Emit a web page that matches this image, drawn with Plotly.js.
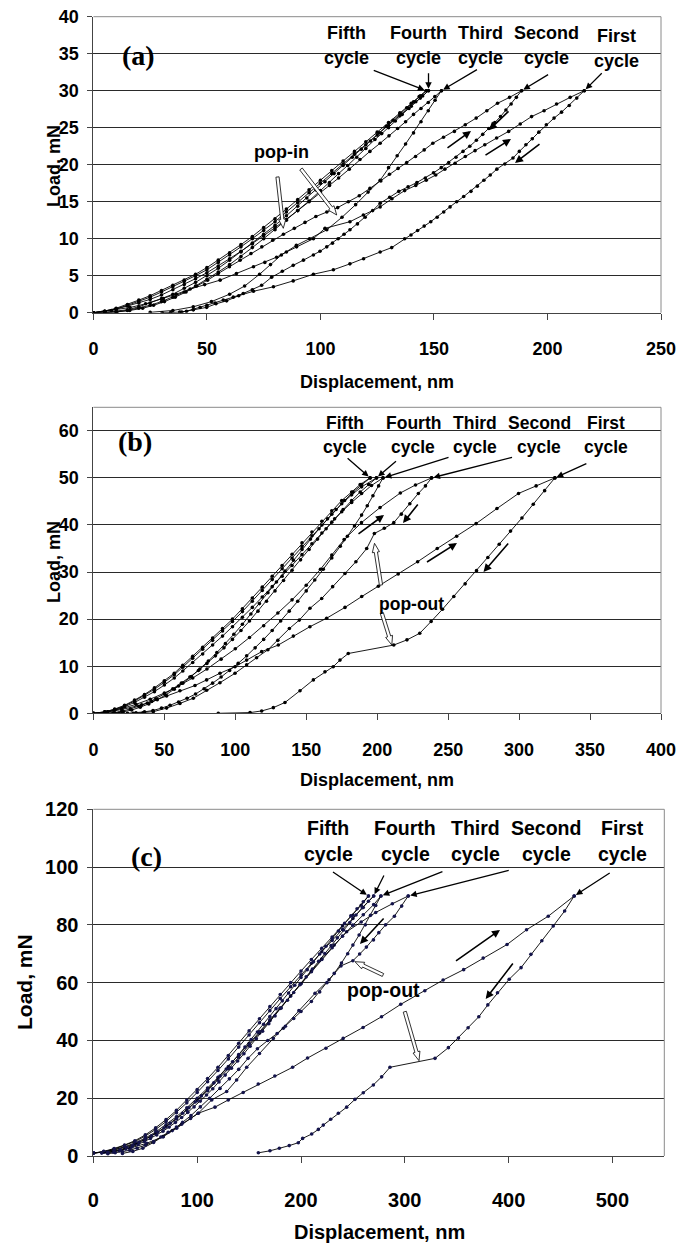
<!DOCTYPE html>
<html><head><meta charset="utf-8">
<script src="https://cdn.plot.ly/plotly-3.0.1.min.js"></script>
<style>html,body{margin:0;padding:0;background:#fff}#chart{width:677px;height:1243px}</style>
</head><body><div id="chart"></div>
<script>
// ---------------- Panel (a): max load 30 mN ----------------
const aC1Lx=[0,8,16.1,23,30.8,36.5,42.6,49,55.8,63,70.5,75.5,80.7,85,89.5,96.9,102,113,118.9,126.3,131.5,137.1,142,146.6,150.8,154.8,159.3,163.8,168.1,172.4,177.6,182.9,188,193,198.5,204,210,216.2];
const aC1Ly=[0,0.3,0.7,1.2,1.9,2.5,3.2,3.8,4.4,5.3,6.2,6.8,7.5,8.2,8.9,10.0,11.4,12.3,13.2,14.3,15.4,16.5,17.2,17.9,18.6,19.4,20.2,21.1,21.9,22.7,23.6,24.5,25.5,26.5,27.3,28.2,29.1,30];
const aC1Ux=[216.2,212.9,209.6,206.2,202.9,199.5,196.2,193.3,190.5,187.6,184.8,181.2,177.7,174.8,172,169.1,166.3,163.1,160,157.1,154.3,151.4,148.6,145.7,142.8,139.9,137.1,131.4,126.3,119,113,105.7,96.9,88,79.3,70.5,64,58.7,54,49.9,44,38.9,34,30.3];
const aC1Uy=[30,29,28,27.1,26.3,25.4,24.4,23.5,22.7,21.8,20.9,20.1,19.4,18.6,17.9,17.1,16.4,15.7,15,14.3,13.6,12.9,12.3,11.7,11.1,10.5,10,8.8,8.2,7.3,6.6,5.8,5.2,4.3,3.5,2.9,2.3,1.6,1.2,0.72,0.4,0.1,0.02,0];
const aC2Lx=[0,10.3,16,21.7,26.5,31.3,36,40.8,45.5,50.3,55,59.9,64.6,69.4,74.2,79,83.7,88.5,93.2,98,102.8,107.6,112.3,117.1,121.8,126.6,130.4,134.2,138,141.9,145.7,149.5,154.2,159,163.8,168.6,173.3,178,183.3,188.6];
const aC2Ly=[0,0.1,0.3,0.6,1.0,1.5,2.1,2.8,3.6,4.4,5.3,6.2,7.1,8,8.9,9.8,10.6,11.4,12.2,13,13.6,14.2,15.0,15.8,16.8,17.8,18.7,19.5,20.3,21.1,22.0,22.9,23.7,24.5,25.4,26.3,27.3,28.3,29.1,30];
const aC2Ux=[188.6,186.3,184,181.7,179.3,176.8,174.2,171.5,168.7,165.8,162.8,159.7,156.5,153.2,149.8,146.2,142.5,138.6,134.5,130.5,126.3,123,119.7,116.3,113,110.4,107.8,105.3,102.8,99.8,96.9,92.5,88,83.2,78.5,74.1,70,66,61.6,57.2,53.6,50,47,44,41,38];
const aC2Uy=[30,29.1,28.2,27.4,26.5,25.7,24.9,24.1,23.3,22.5,21.8,21.0,20.3,19.6,18.9,18.2,17.6,17.0,16.4,15.6,14.8,13.8,12.9,12.0,11.2,10.6,10.0,9.4,8.9,8.3,7.8,7.1,6.4,5.6,4.8,3.7,3.1,2.6,2.1,1.7,1.3,1.0,0.7,0.4,0.2,0.1];
const aC3Lx=[0,5,10,15,20,25,30,35,40,45,50,55,60,65,70,75,80,85,90,95,100,104,108,112.7,117.4,121.8,126.3,130.2,134,137.5,141,144.3,147.5,150.4,153.3];
const aC3Ly=[0,0.2,0.5,0.9,1.3,1.8,2.4,3.1,3.8,4.6,5.4,6.3,7.3,8.3,9.3,10.4,11.5,12.6,13.8,15.0,16.2,17.2,18.2,19.4,20.7,21.8,22.9,23.9,24.9,25.8,26.8,27.6,28.4,29.2,30];
const aC3Ux=[153.3,150.5,147.5,144.3,141,137.5,133.8,130,126.3,121,115.5,109.5,102.8,95.2,89.4,82.8,78,73.2,66.6,60,52,44,35,25];
const aC3Uy=[30,28.7,27.3,25.8,24.3,22.8,21.2,19.6,17.9,16.3,14.6,12.9,11.2,10,9.1,7.8,6.5,5.2,3.6,2.5,1.5,0.8,0.3,0.05];
const aC4Lx=[0,5,10,15,20,25,30,35,40,45,50,55,60,65,70,75,80,85,90,95,100,105,110,115,120,125,130,135,140,144,147.6];
const aC4Ly=[0,0.2,0.5,1.0,1.5,2.1,2.8,3.5,4.2,5.0,5.8,6.8,7.8,8.9,10.0,11.1,12.3,13.6,14.9,16.2,17.5,18.8,20.1,21.4,22.7,24.0,25.3,26.6,27.9,29.0,30];
const aC4Ux=[147.6,145,142,139,136,133,130,127,124,120,116,112,108,104,100,95,90,85,80,75,70,65,60,55,50,45,40,35,30,25,20,15,10,5];
const aC4Uy=[30,29.3,28.5,27.6,26.8,25.9,25,24.2,23.4,22.2,21.0,19.9,18.8,17.6,16.5,15.1,13.8,12.5,11.2,10.0,8.8,7.6,6.5,5.5,4.5,3.6,2.8,2.1,1.5,1.0,0.6,0.3,0.1,0];
const aC5Lx=[0,5,10,15,20,25,30,35,40,45,50,55,60,65,70,75,80,85,90,95,100,105,110,115,120,125,130,135,140,143.5,146.6];
const aC5Ly=[0,0.2,0.6,1.1,1.7,2.3,3.0,3.7,4.4,5.2,6.1,7.1,8.1,9.2,10.3,11.5,12.7,14.0,15.3,16.6,17.9,19.2,20.5,21.8,23.1,24.4,25.7,27.0,28.3,29.2,30];
const aC5Ux=[146.6,144,141,138,135,132,129,126,122,118,114,110,106,102,98,94,90,85,80,75,70,65,60,55,50,45,40,35,30,25,20,15,10,5,0];
const aC5Uy=[30,29.3,28.5,27.7,26.9,26.0,25.2,24.3,23.2,22.1,21.0,19.9,18.8,17.7,16.6,15.5,14.4,13.1,11.8,10.6,9.4,8.2,7.1,6.0,5.0,4.1,3.3,2.5,1.9,1.3,0.8,0.4,0.2,0.05,0];

// ---------------- Panel (b): max load 50 mN ----------------
const bC1Lx=[0,10,20,34,41.1,51.6,61,71.6,79.8,89.2,99.8,108,118.6,130.3,140.9,152.6,164.4,177.3,189.1,200.8,214.8,228.5,242.3,256,269.7,284.4,299.6,312,325.2];
const bC1Ly=[0,0.3,0.8,1.8,2.5,3.7,4.8,5.9,7.1,8.5,9.9,11.3,13.1,14.5,16.4,18.4,20.2,22.5,24.8,27.0,29.6,32.2,35.0,37.6,40.3,43.5,46.7,48.3,50];
const bC1Ux=[325.2,318,310,302,294,286,278,270,262,254,246,238,230,221,211.7,179.6,173.8,169,163.2,155,145.6,135,126.8,118.6,110.4,88];
const bC1Uy=[50,47.3,44.4,41.5,38.7,35.9,33.1,30.3,27.5,24.8,22.1,19.5,17.0,15.6,14.5,12.7,11.3,9.9,8.8,7.1,4.8,2.3,1.2,0.5,0.15,0];
const bC2Lx=[0,10,20,30,40,50,60,70,80,90,100,110,120,130,140,150,160,168,176.7,188.9,202,216.3,227,238.3];
const bC2Ly=[0,0.3,1.0,1.9,3.0,4.3,5.8,7.5,9.4,11.5,13.7,16.1,18.6,21.3,24.1,27.2,30.6,33.6,36.9,40.5,43.7,46.8,48.5,50];
const bC2Ux=[238.3,234,229,223,217,211.7,205,198,192.6,185,177.3,168.6,160.9,152.6,145.1,138.1,130,123,115,108,99.8,89.2,79.8,70.4,61,51.6,42.2,35,28.1];
const bC2Uy=[50,48.3,46.7,44.5,42.3,40.5,39.3,38.2,35,32.2,29.7,26.9,24.4,22.3,19.8,18,15.5,13.5,11.8,10.3,8.5,6.5,4.9,3.2,2.1,1.1,0.35,0.1,0];
const bC3Lx=[0,8,15,22,29,36,43,50,57,63,70,77,84,91,98,105,112,119,126,133,140,147,154,161,168,175,182,189,196,204.1];
const bC3Ly=[0,0.2,0.7,1.4,2.3,3.4,4.6,6.0,7.5,9.0,10.8,12.6,14.5,16.4,18.4,20.4,22.5,24.7,26.9,29.1,31.4,33.7,36.0,38.3,40.6,42.8,44.8,46.7,48.4,50];
const bC3Ux=[204.1,201,197,193,189,184,179,174,168,162,156,150,144,138,132,126,120,114,108,102,96,90,84,78,72,66,60,54,48,42,36,30,24,18];
const bC3Uy=[50,48.3,46.2,44.1,42.1,39.8,37.6,35.5,33.0,30.6,28.3,26.0,23.8,21.7,19.6,17.6,15.7,13.9,12.2,10.6,9.1,7.7,6.4,5.2,4.1,3.2,2.4,1.7,1.1,0.6,0.3,0.1,0,0];
const bC4Lx=[0,8,15,22,29,36,43,50,57,63,70,77,84,91,98,105,112,119,126,133,140,147,154,161,168,175,182,189,199.5];
const bC4Ly=[0,0.3,0.8,1.6,2.6,3.8,5.1,6.6,8.2,9.8,11.7,13.6,15.5,17.5,19.5,21.6,23.8,26.1,28.4,30.7,33.0,35.4,37.7,40.0,42.3,44.5,46.4,48.1,50];
const bC4Ux=[199.5,194,188,182,176,170,164,158,152,146,140,134,128,122,116,110,104,98,92,86,80,74,68,62,56,50,44,38,32,26,20,14,8];
const bC4Uy=[50,48.6,47.0,45.2,43.3,41.3,39.2,37.0,34.8,32.6,30.4,28.2,26.0,23.8,21.7,19.6,17.6,15.7,13.9,12.2,10.6,9.1,7.7,6.4,5.2,4.1,3.1,2.2,1.5,0.9,0.4,0.1,0];
const bC5Lx=[0,8,15,22,29,36,43,50,57,63,70,77,84,91,98,105,112,119,126,133,140,147,154,161,168,175,182,188,195];
const bC5Ly=[0,0.3,0.9,1.7,2.8,4.0,5.4,6.9,8.5,10.2,12.1,14.0,16.0,18.0,20.0,22.2,24.5,26.8,29.1,31.4,33.8,36.2,38.5,40.8,43.0,45.2,47.0,48.6,50];
const bC5Ux=[195,189,183,177,171,165,159,153,147,141,135,129,123,117,111,105,99,93,87,81,75,69,63,57,51,45,39,33,27,21,15,9];
const bC5Uy=[50,48.6,47.0,45.2,43.3,41.3,39.2,37.0,34.8,32.5,30.2,27.9,25.6,23.3,21.1,18.9,16.8,14.8,12.9,11.1,9.4,7.8,6.4,5.1,3.9,2.9,2.0,1.3,0.7,0.3,0.1,0];

// ---------------- Panel (c): max load 90 mN ----------------
const cC1Lx=[0,19.2,35.2,51.3,67.3,80.2,101,117.1,129.9,144.3,158.8,174.8,191.9,206.3,224,240.6,259.8,277.6,296.1,319.3,336.9,356.7,375.5,398.5,417.3,438.2,463.2];
const cC1Ly=[1.1,1.5,2.7,4.4,6.7,9.6,14.8,16.9,19.4,22,24.9,27.7,30.7,33.9,37.3,40.7,44.5,48.2,52.5,57.2,60.9,64.5,68.5,73.2,78.3,83,90];
const cC1Ux=[463.2,454,443,432,421.5,412,400.6,389.3,380,371.3,361,351.7,342,329.1,285.7,277.7,269.7,260,252,244,236,228.6,221.5,216.7,210.3,201.6,197.4,188.7,179.1,170.1,158.9];
const cC1Uy=[90,84.8,79.6,74.5,69.8,65.2,61.2,56.5,52.3,48.2,44.4,40.8,37.5,33.8,30.7,27.4,24.6,21.9,19.6,16.9,14.8,12.7,10.7,9.2,7.6,6.1,4.6,3.6,2.7,1.8,1.1];
const cC2Lx=[0,10,20,30,40,50,60,70,80,90,100,110,120,130,140,150,160,170,180,190,200,210,220,232,244,258,272,288,303.3];
const cC2Ly=[1,1.4,2.1,3.0,4.2,5.8,7.8,10.1,12.8,15.8,19.1,22.6,26.3,30.2,34.2,38.3,42.5,46.8,51.1,55.4,59.7,64.0,68.2,73.0,77.6,81.0,84.3,87.3,90];
const cC2Ux=[303.3,297,290,281.5,275,269.8,263,256.5,250,238.5,227,213.5,198,183,173.3,160,147.7,138,128.4,114,101,93.6,85,76,67,58,47.6,38,28];
const cC2Uy=[90,86.5,83,80,77.3,74.8,72.3,69.9,67.6,65.8,61,56.3,50.3,44.2,40.7,35.5,30.7,26.3,22.3,19.4,14.8,13,11,8.8,6.7,4.7,2.7,1.6,0.9];
const cC3Lx=[0,10,20,30,40,50,60,70,80,90,100,110,120,130,140,150,160,170,180,190,200,210,220,230,240,250,260,270,277];
const cC3Ly=[1,1.4,2.2,3.2,4.5,6.2,8.3,10.8,13.6,16.7,20.0,23.5,27.2,31.0,34.9,38.9,43.0,47.1,51.2,55.4,59.6,63.8,68.0,72.1,76.1,79.9,83.5,87.0,90];
const cC3Ux=[277,272,267,262,256,250,245,239,232,225,218,210,200,193,185,177,168,158,149,140,131,122,112,103,94,86,80,72,65,58,50,42,35,28,21,14];
const cC3Uy=[90,86.7,83.3,80,76.5,73,70,66.8,63.2,60,56.8,53.5,50,47.6,44.9,42.4,40,37.1,33.8,30,26.7,23.4,20,17,14,11.7,10,8.2,6.6,5,3.7,2.7,2,1.5,1.1,0.8];
const cC4Lx=[0,10,20,30,40,50,60,70,80,90,100,110,120,130,140,150,160,170,180,190,200,210,220,230,240,250,260,270];
const cC4Ly=[1,1.5,2.4,3.6,5.0,6.9,9.2,11.9,15.0,18.4,22.0,25.7,29.6,33.6,37.7,41.9,46.1,50.3,54.5,58.6,62.7,66.7,70.7,74.6,78.4,82.2,86.0,90];
const cC4Ux=[270,265,259,253,247,241,235,229,223,217,211,205,199,193,187,181,175,169,163,157,151,145,139,133,127,121,115,109,103,97,91,85,79,73,67,61,55,49,43,37,31,25,19,13];
const cC4Uy=[90,88.2,85.9,83.4,80.8,78.2,75.5,72.8,70.1,67.4,64.7,62.0,59.3,56.6,53.9,51.2,48.5,45.8,43.2,40.6,38.0,35.4,32.9,30.4,28.0,25.6,23.3,21.1,19.0,17.0,15.1,13.3,11.6,10.0,8.6,7.3,6.1,5.0,4.0,3.1,2.4,1.8,1.4,1.1];
const cC5Lx=[0,10,20,30,40,50,60,70,80,90,100,110,120,130,140,150,160,170,180,190,200,210,220,230,240,250,258,265];
const cC5Ly=[1,1.6,2.6,3.8,5.3,7.3,9.8,12.6,15.8,19.4,23.0,26.8,30.7,34.8,39.0,43.3,47.5,51.7,55.9,60.0,64.0,68.0,71.9,75.8,79.6,83.3,86.8,90];
const cC5Ux=[265,260,254,248,242,236,230,224,218,212,206,200,194,188,182,176,170,164,158,152,146,140,134,128,122,116,110,104,98,92,86,80,74,68,62,56,50,44,38,32,26,20,14,8];
const cC5Uy=[90,88.0,85.6,83.1,80.5,77.9,75.3,72.6,69.9,67.2,64.5,61.8,59.1,56.4,53.7,51.0,48.3,45.6,42.9,40.3,37.7,35.1,32.6,30.1,27.7,25.3,23.0,20.8,18.7,16.7,14.8,13.0,11.3,9.7,8.3,7.0,5.8,4.7,3.7,2.9,2.2,1.7,1.3,1.0];

// labels
const cycleWords=['Fifth','Fourth','Third','Second','First'];
const cycleWord2='cycle';
const panelTags=['(a)','(b)','(c)'];
const xTitle='Displacement, nm';
const yTitle='Load, mN';
const popIn='pop-in', popOut='pop-out';

// ---------------- drawing ----------------
const W=677,H=1243;
const PX=x=>x/W, PY=y=>1-y/H;
const FONT='Liberation Sans, Arial, Helvetica, sans-serif';

const panels=[
 {xa:'x',ya:'y',mk:'#000',curves:[[aC1Lx,aC1Ly],[aC1Ux,aC1Uy],[aC2Lx,aC2Ly],[aC2Ux,aC2Uy],[aC3Lx,aC3Ly],[aC3Ux,aC3Uy],[aC4Lx,aC4Ly],[aC4Ux,aC4Uy],[aC5Lx,aC5Ly],[aC5Ux,aC5Uy]],
  peaks:[[aC5Ux,aC5Uy],[aC4Ux,aC4Uy],[aC3Ux,aC3Uy],[aC2Ux,aC2Uy],[aC1Ux,aC1Uy]]},
 {xa:'x2',ya:'y2',mk:'#000',curves:[[bC1Lx,bC1Ly],[bC1Ux,bC1Uy],[bC2Lx,bC2Ly],[bC2Ux,bC2Uy],[bC3Lx,bC3Ly],[bC3Ux,bC3Uy],[bC4Lx,bC4Ly],[bC4Ux,bC4Uy],[bC5Lx,bC5Ly],[bC5Ux,bC5Uy]],
  peaks:[[bC5Ux,bC5Uy],[bC4Ux,bC4Uy],[bC3Ux,bC3Uy],[bC2Ux,bC2Uy],[bC1Ux,bC1Uy]]},
 {xa:'x3',ya:'y3',mk:'#14144a',curves:[[cC1Lx,cC1Ly],[cC1Ux,cC1Uy],[cC2Lx,cC2Ly],[cC2Ux,cC2Uy],[cC3Lx,cC3Ly],[cC3Ux,cC3Uy],[cC4Lx,cC4Ly],[cC4Ux,cC4Uy],[cC5Lx,cC5Ly],[cC5Ux,cC5Uy]],
  peaks:[[cC5Ux,cC5Uy],[cC4Ux,cC4Uy],[cC3Ux,cC3Uy],[cC2Ux,cC2Uy],[cC1Ux,cC1Uy]]}
];

const traces=[];
panels.forEach(p=>{
  p.curves.forEach(([xs,ys])=>{
    const n=Math.min(xs.length,ys.length);
    traces.push({type:'scatter',mode:'lines+markers',x:xs.slice(0,n),y:ys.slice(0,n),xaxis:p.xa,yaxis:p.ya,
      line:{color:'#000',width:0.9},marker:{color:p.mk,size:3.6},showlegend:false,hoverinfo:'skip'});
  });
});

function xAxis(dom,range,dtick,fs,standoff,anchor){
  return {domain:dom,range:range,dtick:dtick,tick0:0,ticks:'outside',ticklen:6,tickcolor:'#444',tickwidth:1,
    showline:true,linecolor:'#444',linewidth:1,showgrid:false,zeroline:false,anchor:anchor,fixedrange:true,
    tickfont:{family:FONT,size:fs,color:'#000',weight:'bold'},ticklabelstandoff:standoff};
}
function yAxis(dom,range,dtick,fs,anchor){
  return {domain:dom,range:range,dtick:dtick,tick0:0,ticks:'outside',ticklen:5,tickcolor:'#444',tickwidth:1,
    showline:true,linecolor:'#444',linewidth:1,showgrid:true,gridcolor:'#2a2a2a',gridwidth:1,zeroline:false,anchor:anchor,fixedrange:true,
    tickfont:{family:FONT,size:fs,color:'#000',weight:'bold'},ticklabelstandoff:5};
}

const dA={x:[93.4/W,661/W],y:[PY(312.7),PY(16.7)]};
const dB={x:[93.4/W,661/W],y:[PY(713.3),PY(407.3)]};
const dC={x:[93.4/W,664.3/W],y:[PY(1156),PY(809.3)]};

const layout={
  width:W,height:H,margin:{l:0,r:0,t:0,b:0},paper_bgcolor:'#fff',plot_bgcolor:'#fff',showlegend:false,
  xaxis:xAxis(dA.x,[0,250],50,18,14,'y'),
  yaxis:yAxis(dA.y,[0,40],5,18,'x'),
  xaxis2:xAxis(dB.x,[0,400],50,18,14,'y2'),
  yaxis2:yAxis(dB.y,[0,65],10,18,'x2'),
  xaxis3:xAxis(dC.x,[0,550],100,20,20,'y3'),
  yaxis3:yAxis(dC.y,[0,120],20,20,'x3'),
  shapes:[],annotations:[]
};

[dA,dB,dC].forEach(d=>{
  layout.shapes.push({type:'line',xref:'paper',yref:'paper',x0:d.x[0],x1:d.x[1],y0:d.y[1],y1:d.y[1],line:{color:'#8a8a8a',width:1},layer:'above'});
  layout.shapes.push({type:'line',xref:'paper',yref:'paper',x0:d.x[1],x1:d.x[1],y0:d.y[0],y1:d.y[1],line:{color:'#8a8a8a',width:1},layer:'above'});
});
[[309,20,657,78],[99,20,190,78],[309,410,645,470],[99,410,184,470],[99,848,186,880]].forEach(r=>{
  layout.shapes.push({type:'rect',xref:'paper',yref:'paper',x0:PX(r[0]),x1:PX(r[2]),y0:PY(r[3]),y1:PY(r[1]),
    fillcolor:'#fff',line:{width:0},layer:'between'});
});

function txt(t,x,y,size,opt){
  layout.annotations.push(Object.assign({text:t,xref:'paper',yref:'paper',x:PX(x),y:PY(y),showarrow:false,
    xanchor:'center',yanchor:'middle',font:{family:FONT,size:size,color:'#000',weight:'bold'}},opt||{}));
}
const lab=[
  {xs:[346,418,480,546,616],y1:[33,33,33,33,36],y2:[58,58,58,58,61],fs:18},
  {xs:[345,413,475,539,606],y1:[423,423,423,423,423],y2:[447,447,447,447,447],fs:17.5},
  {xs:[328,405,475,546,622],y1:[828,828,828,828,828],y2:[854,854,854,854,854],fs:19.5}
];
lab.forEach(L=>{cycleWords.forEach((w,i)=>{txt('<b>'+w+'</b>',L.xs[i],L.y1[i],L.fs);txt('<b>'+cycleWord2+'</b>',L.xs[i],L.y2[i],L.fs);});});

const peakOff=[
  [[-54,-21],[0,-19],[37,-22],[28,-17],[19,-19]],
  [[-24,-21],[21,-18],[67,-21],[82,-21],[33,-15]],
  [[-37,-25],[11,-22],[63,-25],[102,-26],[37,-24]]
];
panels.forEach((p,pi)=>{
  p.peaks.forEach(([xs,ys],i)=>{
    layout.annotations.push({text:'',xref:p.xa,yref:p.ya,x:xs[0],y:ys[0],ax:peakOff[pi][i][0],ay:peakOff[pi][i][1],
      showarrow:true,arrowhead:2,arrowsize:1,arrowwidth:1.3,arrowcolor:'#000',standoff:2});
  });
});

const dirArrows=[
  [[446,149],[471,131]],[[510,110],[489,130]],[[484,156],[511,139]],[[541,143],[515,163]],
  [[357,535],[384,515]],[[419,503],[403,523]],[[425.5,563],[457,543]],[[509.5,542],[483.5,572]],
  [[385,917],[360,944]],[[454.5,962],[500,930]],[[514,962],[485.7,999]]
];
dirArrows.forEach(([t,h])=>{
  layout.annotations.push({text:'',xref:'paper',yref:'paper',x:PX(h[0]),y:PY(h[1]),ax:t[0]-h[0],ay:t[1]-h[1],
    showarrow:true,arrowhead:2,arrowsize:1,arrowwidth:1.6,arrowcolor:'#000'});
});

function hollow(t,h){
  const dx=h[0]-t[0],dy=h[1]-t[1],L=Math.hypot(dx,dy),ux=dx/L,uy=dy/L,nx=-uy,ny=ux;
  const w=1.6,hw=3.6,hl=9;
  const bx=h[0]-ux*hl,by=h[1]-uy*hl;
  const pts=[[t[0]+nx*w,t[1]+ny*w],[bx+nx*w,by+ny*w],[bx+nx*hw,by+ny*hw],[h[0],h[1]],[bx-nx*hw,by-ny*hw],[bx-nx*w,by-ny*w],[t[0]-nx*w,t[1]-ny*w]];
  const path='M '+pts.map(q=>PX(q[0]).toFixed(5)+','+PY(q[1]).toFixed(5)).join(' L ')+' Z';
  layout.shapes.push({type:'path',xref:'paper',yref:'paper',path:path,fillcolor:'#fff',line:{color:'#000',width:0.8},layer:'above'});
}
[[[277.5,177],[283.3,228.3]],[[301,169],[336.7,215]],
 [[381,585],[374.5,543.3]],[[381.8,613],[391.8,645]],
 [[383,975],[355,961.7]],[[404.8,1011.7],[419,1060.7]]].forEach(a=>hollow(a[0],a[1]));

txt('<b>'+popIn+'</b>',281,152,18);
txt('<b>'+popOut+'</b>',411,604,17.5);
txt('<b>'+popOut+'</b>',383,990,19.5);

[[138,56],[135,441],[146,856]].forEach((p,i)=>txt('<b>'+panelTags[i]+'</b>',p[0],p[1],28,{font:{family:'Liberation Serif, Times New Roman, serif',size:28,color:'#000',weight:'bold'}}));

txt('<b>'+xTitle+'</b>',377,382,18);
txt('<b>'+xTitle+'</b>',377,780,18);
txt('<b>'+xTitle+'</b>',380,1232,20);
txt('<b>'+yTitle+'</b>',54,166,18,{textangle:-90});
txt('<b>'+yTitle+'</b>',54,562,18,{textangle:-90});
txt('<b>'+yTitle+'</b>',24,982,21,{textangle:-90});

Plotly.newPlot('chart',traces,layout,{displayModeBar:false,staticPlot:true});
</script></body></html>
